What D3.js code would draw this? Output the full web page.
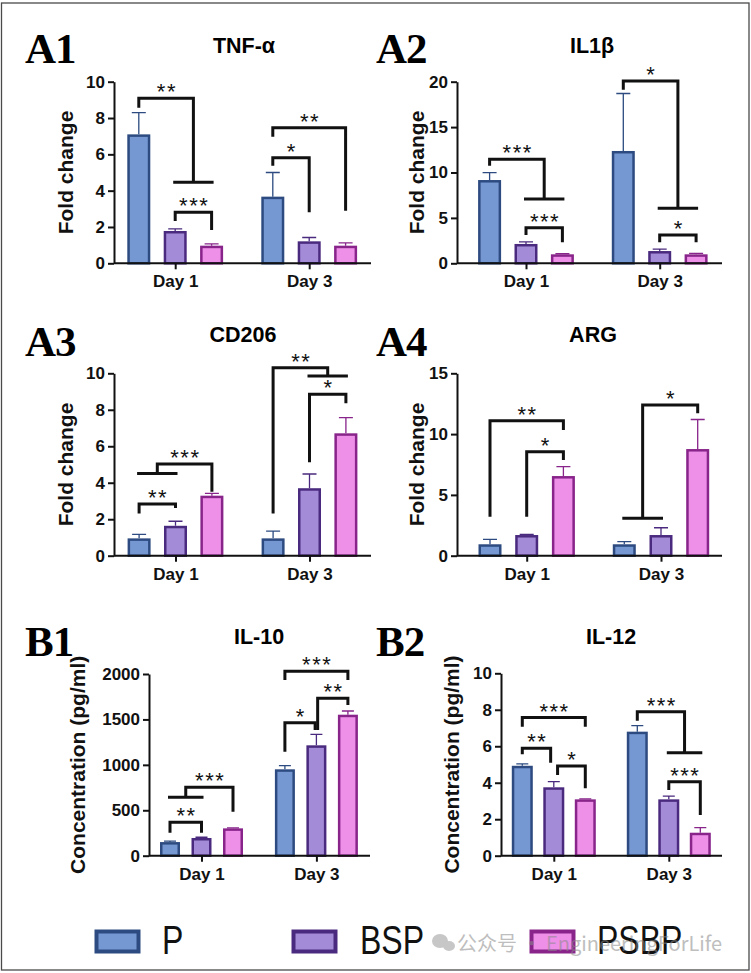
<!DOCTYPE html>
<html><head><meta charset="utf-8">
<script src="https://cdn.jsdelivr.net/npm/d3@7"></script>
<style>body{margin:0;background:#fff} svg{display:block}</style>
</head><body>
<svg id="c" width="751" height="973"></svg>
<script>
// ---------------- DATA ----------------
const days = ["Day 1", "Day 3"];
const seriesNames = ["P", "BSP", "PSBP"];

// A1 TNF-α : [series][day]
const tnfMean = [[7.10, 3.67], [1.78, 1.21], [0.97, 0.97]];
const tnfSD   = [[1.20, 1.33], [0.12, 0.21], [0.10, 0.15]];
const tnfTicks = [0, 2, 4, 6, 8, 10];
const tnfSig = [
  {day: 0, a: 0, b: 1.5, y: 9.09, ya: 8.57, yb: 4.46, capB: [1, 2], label: "**"},
  {day: 0, a: 1, b: 2, y: 2.81, ya: 2.33, yb: 1.83, label: "***"},
  {day: 1, a: 0, b: 1, y: 5.81, ya: 5.37, yb: 2.81, label: "*"},
  {day: 1, a: 0, b: 2, y: 7.47, ya: 6.97, yb: 2.90, label: "**"}
];

// A2 IL1β
const il1Mean = [[9.17, 12.37], [2.13, 1.35], [0.99, 0.99]];
const il1SD   = [[0.81, 6.33], [0.22, 0.22], [0.06, 0.11]];
const il1Ticks = [0, 5, 10, 15, 20];
const il1Sig = [
  {day: 0, a: 0, b: 1.5, y: 11.45, ya: 10.75, yb: 7.08, capB: [1, 2], label: "***"},
  {day: 0, a: 1, b: 2, y: 3.92, ya: 3.12, yb: 2.31, label: "***"},
  {day: 1, a: 0, b: 1.5, y: 20.08, ya: 19.1, yb: 6.06, capB: [1, 2], label: "*"},
  {day: 1, a: 1, b: 2, y: 3.12, ya: 2.31, yb: 2.31, label: "*"}
];

// A3 CD206
const cdMean = [[0.95, 0.95], [1.64, 3.70], [3.29, 6.71]];
const cdSD   = [[0.22, 0.40], [0.25, 0.78], [0.13, 0.86]];
const cdTicks = [0, 2, 4, 6, 8, 10];
const cdSig = [
  {day: 0, a: 0, b: 1, y: 2.83, ya: 2.32, yb: 2.62, label: "**"},
  {day: 0, a: 0.5, b: 2, y: 5.03, ya: 4.5, yb: 3.51, capA: [0, 1], label: "***"},
  {day: 1, a: 0, b: 1.5, y: 10.31, ya: 2.32, yb: 9.85, capB: [1, 2], label: "**"},
  {day: 1, a: 1, b: 2, y: 8.85, ya: 5.12, yb: 8.36, label: "*"}
];

// A4 ARG
const argMean = [[0.94, 0.94], [1.70, 1.70], [6.55, 8.77]];
const argSD   = [[0.41, 0.21], [0.05, 0.60], [0.77, 2.43]];
const argTicks = [0, 5, 10, 15];
const argSig = [
  {day: 0, a: 0, b: 2, y: 11.1, ya: 3.2, yb: 10.34, label: "**"},
  {day: 0, a: 1, b: 2, y: 8.55, ya: 3.2, yb: 7.87, label: "*"},
  {day: 1, a: 0.5, b: 2, y: 12.39, ya: 3.07, yb: 11.71, capA: [0, 1], label: "*"}
];

// B1 IL-10 (pg/ml)
const il10Mean = [[150, 951], [195, 1215], [301, 1552]];
const il10SD   = [[10, 40], [8, 121], [5, 41]];
const il10Ticks = [0, 500, 1000, 1500, 2000];
const il10Sig = [
  {day: 0, a: 0, b: 1, y: 367, ya: 253, yb: 253, label: "**"},
  {day: 0, a: 0.5, b: 2, y: 753, ya: 643, yb: 484, capA: [0, 1], label: "***"},
  {day: 1, a: 0, b: 0.96, y: 1464, ya: 1145, yb: 1384, label: "*"},
  {day: 1, a: 1.04, b: 2, y: 1733, ya: 1384, yb: 1659, label: "**"},
  {day: 1, a: 0, b: 2, y: 2031, ya: 1934, yb: 1934, label: "***"}
];

// B2 IL-12 (pg/ml)
const il12Mean = [[4.93, 6.80], [3.75, 3.09], [3.09, 1.26]];
const il12SD   = [[0.10, 0.33], [0.31, 0.18], [0.03, 0.28]];
const il12Ticks = [0, 2, 4, 6, 8, 10];
const il12Sig = [
  {day: 0, a: 0, b: 2, y: 7.57, ya: 7.07, yb: 7.07, label: "***"},
  {day: 0, a: 0, b: 0.9, y: 5.89, ya: 5.56, yb: 5.1, label: "**"},
  {day: 0, a: 1.12, b: 2, y: 4.92, ya: 4.42, yb: 3.7, label: "*"},
  {day: 1, a: 0, b: 1.5, y: 7.89, ya: 7.4, yb: 5.65, capB: [1, 2], label: "***"},
  {day: 1, a: 1, b: 2, y: 4.06, ya: 3.6, yb: 2.23, label: "***"}
];

// ---------------- STYLE / LAYOUT ----------------
const fills   = ["#7598d3", "#a38bd7", "#ee90e8"];
const strokes = ["#2d4b80", "#4a2a7e", "#88248a"];
const SANS = "'Liberation Sans', Arial, Helvetica, sans-serif";
const SERIF = "'Liberation Serif', 'Times New Roman', serif";

const panels = [
  {letter: "A1", lx: 25, ly: 63, title: "TNF-α", tx: 244, ty: 53, ylab: "Fold change", ylx: 73,
   ax: [114, 371], yr: [263.3, 81.7], centers: [175.2, 309.2], step: 36.4, barW: 23, capW: 14,
   mean: tnfMean, sd: tnfSD, ticks: tnfTicks, sig: tnfSig},
  {letter: "A2", lx: 376, ly: 63, title: "IL1β", tx: 592, ty: 53, ylab: "Fold change", ylx: 424,
   ax: [457, 722], yr: [263.3, 81.7], centers: [526, 659.7], step: 36.4, barW: 23, capW: 14,
   mean: il1Mean, sd: il1SD, ticks: il1Ticks, sig: il1Sig},
  {letter: "A3", lx: 25, ly: 356, title: "CD206", tx: 243, ty: 342, ylab: "Fold change", ylx: 73,
   ax: [114, 371], yr: [555.7, 373.3], centers: [175.5, 309.5], step: 36.4, barW: 23, capW: 14,
   mean: cdMean, sd: cdSD, ticks: cdTicks, sig: cdSig},
  {letter: "A4", lx: 376, ly: 356, title: "ARG", tx: 593, ty: 342, ylab: "Fold change", ylx: 424,
   ax: [457, 722], yr: [555.7, 373.3], centers: [526.7, 661], step: 36.7, barW: 23, capW: 14,
   mean: argMean, sd: argSD, ticks: argTicks, sig: argSig},
  {letter: "B1", lx: 25, ly: 656, title: "IL-10", tx: 259, ty: 644, ylab: "Concentration (pg/ml)", ylx: 85,
   ax: [149, 370], yr: [855.7, 674], centers: [201.5, 316.4], step: 31.5, barW: 20, capW: 12,
   mean: il10Mean, sd: il10SD, ticks: il10Ticks, sig: il10Sig},
  {letter: "B2", lx: 376, ly: 656, title: "IL-12", tx: 611, ty: 644, ylab: "Concentration (pg/ml)", ylx: 459,
   ax: [501, 722], yr: [855.7, 673.3], centers: [553.8, 668.8], step: 31.5, barW: 21, capW: 12,
   mean: il12Mean, sd: il12SD, ticks: il12Ticks, sig: il12Sig}
];

const svg = d3.select("#c");
svg.append("rect").attr("x", 1.5).attr("y", 3).attr("width", 747.5).attr("height", 967)
  .attr("fill", "#fff").attr("stroke", "#4a4a4a").attr("stroke-width", 1.3);

function drawPanel(p) {
  const g = svg.append("g");
  const ymax = p.ticks[p.ticks.length - 1];
  const y = d3.scaleLinear().domain([0, ymax]).range(p.yr);
  const gx = d3.scalePoint().domain(days).range(p.centers);
  const sx = d3.scaleLinear().domain([0, 2]).range([-p.step, p.step]);
  const xAt = (d, i) => gx(days[d]) + sx(i);

  // panel letter & title
  g.append("text").attr("x", p.lx).attr("y", p.ly).text(p.letter)
    .attr("font-family", SERIF).attr("font-weight", "bold").attr("font-size", 43)
    .attr("letter-spacing", -1);
  g.append("text").attr("x", p.tx).attr("y", p.ty).text(p.title)
    .attr("text-anchor", "middle").attr("font-family", SANS).attr("font-weight", "bold").attr("font-size", 21.5);

  // y axis
  const yAxis = d3.axisLeft(y).tickValues(p.ticks).tickSize(6).tickSizeOuter(0).tickPadding(3)
    .tickFormat(d3.format("d"));
  const ya = g.append("g").attr("transform", `translate(${p.ax[0]},0)`).call(yAxis);
  ya.select(".domain").attr("stroke", "#111").attr("stroke-width", 2);
  ya.selectAll(".tick line").attr("stroke", "#111").attr("stroke-width", 2);
  ya.selectAll(".tick text").attr("font-family", SANS).attr("font-weight", "bold")
    .attr("font-size", 17).attr("fill", "#111");

  // y label
  g.append("text").attr("transform", `translate(${p.ylx},${(p.yr[0] + p.yr[1]) / 2}) rotate(-90)`)
    .attr("text-anchor", "middle").attr("font-family", SANS).attr("font-weight", "bold")
    .attr("font-size", 21).attr("fill", "#111").text(p.ylab);

  // bars
  const data = [];
  seriesNames.forEach((s, si) => days.forEach((dn, di) => {
    data.push({s: si, d: di, v: p.mean[si][di], e: p.sd[si][di]});
  }));
  const sw = 2.5;
  g.selectAll(".err").data(data).enter().append("path")
    .attr("d", d => {
      const cx = xAt(d.d, d.s), yt = y(d.v + d.e);
      return `M${cx},${y(d.v)}V${yt}M${cx - p.capW / 2},${yt}H${cx + p.capW / 2}`;
    })
    .attr("stroke", d => strokes[d.s]).attr("stroke-width", 1.3).attr("fill", "none");
  g.selectAll(".bar").data(data).enter().append("rect")
    .attr("x", d => xAt(d.d, d.s) - p.barW / 2 + sw / 2)
    .attr("y", d => y(d.v) + sw / 2)
    .attr("width", p.barW - sw)
    .attr("height", d => Math.max(0, y(0) - y(d.v) - sw / 2))
    .attr("fill", d => fills[d.s]).attr("stroke", d => strokes[d.s]).attr("stroke-width", sw);

  // x axis
  g.append("line").attr("x1", p.ax[0]).attr("x2", p.ax[1]).attr("y1", p.yr[0]).attr("y2", p.yr[0])
    .attr("stroke", "#111").attr("stroke-width", 2);
  const xAxis = d3.axisBottom(gx).tickSize(6).tickSizeOuter(0).tickPadding(6);
  const xa = g.append("g").attr("transform", `translate(0,${p.yr[0]})`).call(xAxis);
  xa.select(".domain").remove();
  xa.selectAll(".tick line").attr("stroke", "#111").attr("stroke-width", 2);
  xa.selectAll(".tick text").attr("font-family", SANS).attr("font-weight", "bold")
    .attr("font-size", 17).attr("fill", "#111");

  // significance brackets
  p.sig.forEach(b => {
    const xa1 = xAt(b.day, b.a), xb1 = xAt(b.day, b.b), yy = y(b.y);
    let path = `M${xa1},${y(b.ya)}V${yy}H${xb1}V${y(b.yb)}`;
    if (b.capA) path += `M${xAt(b.day, b.capA[0]) - 2},${y(b.ya)}H${xAt(b.day, b.capA[1]) + 2}`;
    if (b.capB) path += `M${xAt(b.day, b.capB[0]) - 2},${y(b.yb)}H${xAt(b.day, b.capB[1]) + 2}`;
    g.append("path").attr("d", path).attr("fill", "none").attr("stroke", "#111")
      .attr("stroke-width", 3).attr("stroke-linejoin", "miter");
    g.append("text").attr("x", (xa1 + xb1) / 2 + 0.8).attr("y", yy + 1).text(b.label)
      .attr("text-anchor", "middle").attr("font-family", SANS).attr("font-size", 22)
      .attr("letter-spacing", 1.5).attr("fill", "#111");
  });
}
panels.forEach(drawPanel);

// legend
const legX = [95, 292, 530];
const legTX = [162, 360, 597];
const leg = svg.append("g");
seriesNames.forEach((s, i) => {
  leg.append("rect").attr("x", legX[i] + 1.5).attr("y", 931.5).attr("width", 42).attr("height", 20)
    .attr("fill", fills[i]).attr("stroke", strokes[i]).attr("stroke-width", 4);
  leg.append("text").attr("transform", `translate(${legTX[i]},954) scale(0.8,1)`).text(s)
    .attr("font-family", SANS).attr("font-size", 40).attr("fill", "#111");
});
// watermark (overlay in the reference image)
const wm = svg.append("g").attr("opacity", 0.55);
wm.append("ellipse").attr("cx", 440).attr("cy", 941).attr("rx", 8).attr("ry", 7).attr("fill", "#9a9a9a");
wm.append("ellipse").attr("cx", 449).attr("cy", 946).attr("rx", 6).attr("ry", 5).attr("fill", "#9a9a9a");
wm.append("text").attr("x", 457).attr("y", 951).text("公众号 · EngineeringForLife")
  .attr("font-family", "'Noto Sans CJK SC', " + SANS).attr("font-size", 20).attr("fill", "#8a8a8a");
</script>
</body></html>
